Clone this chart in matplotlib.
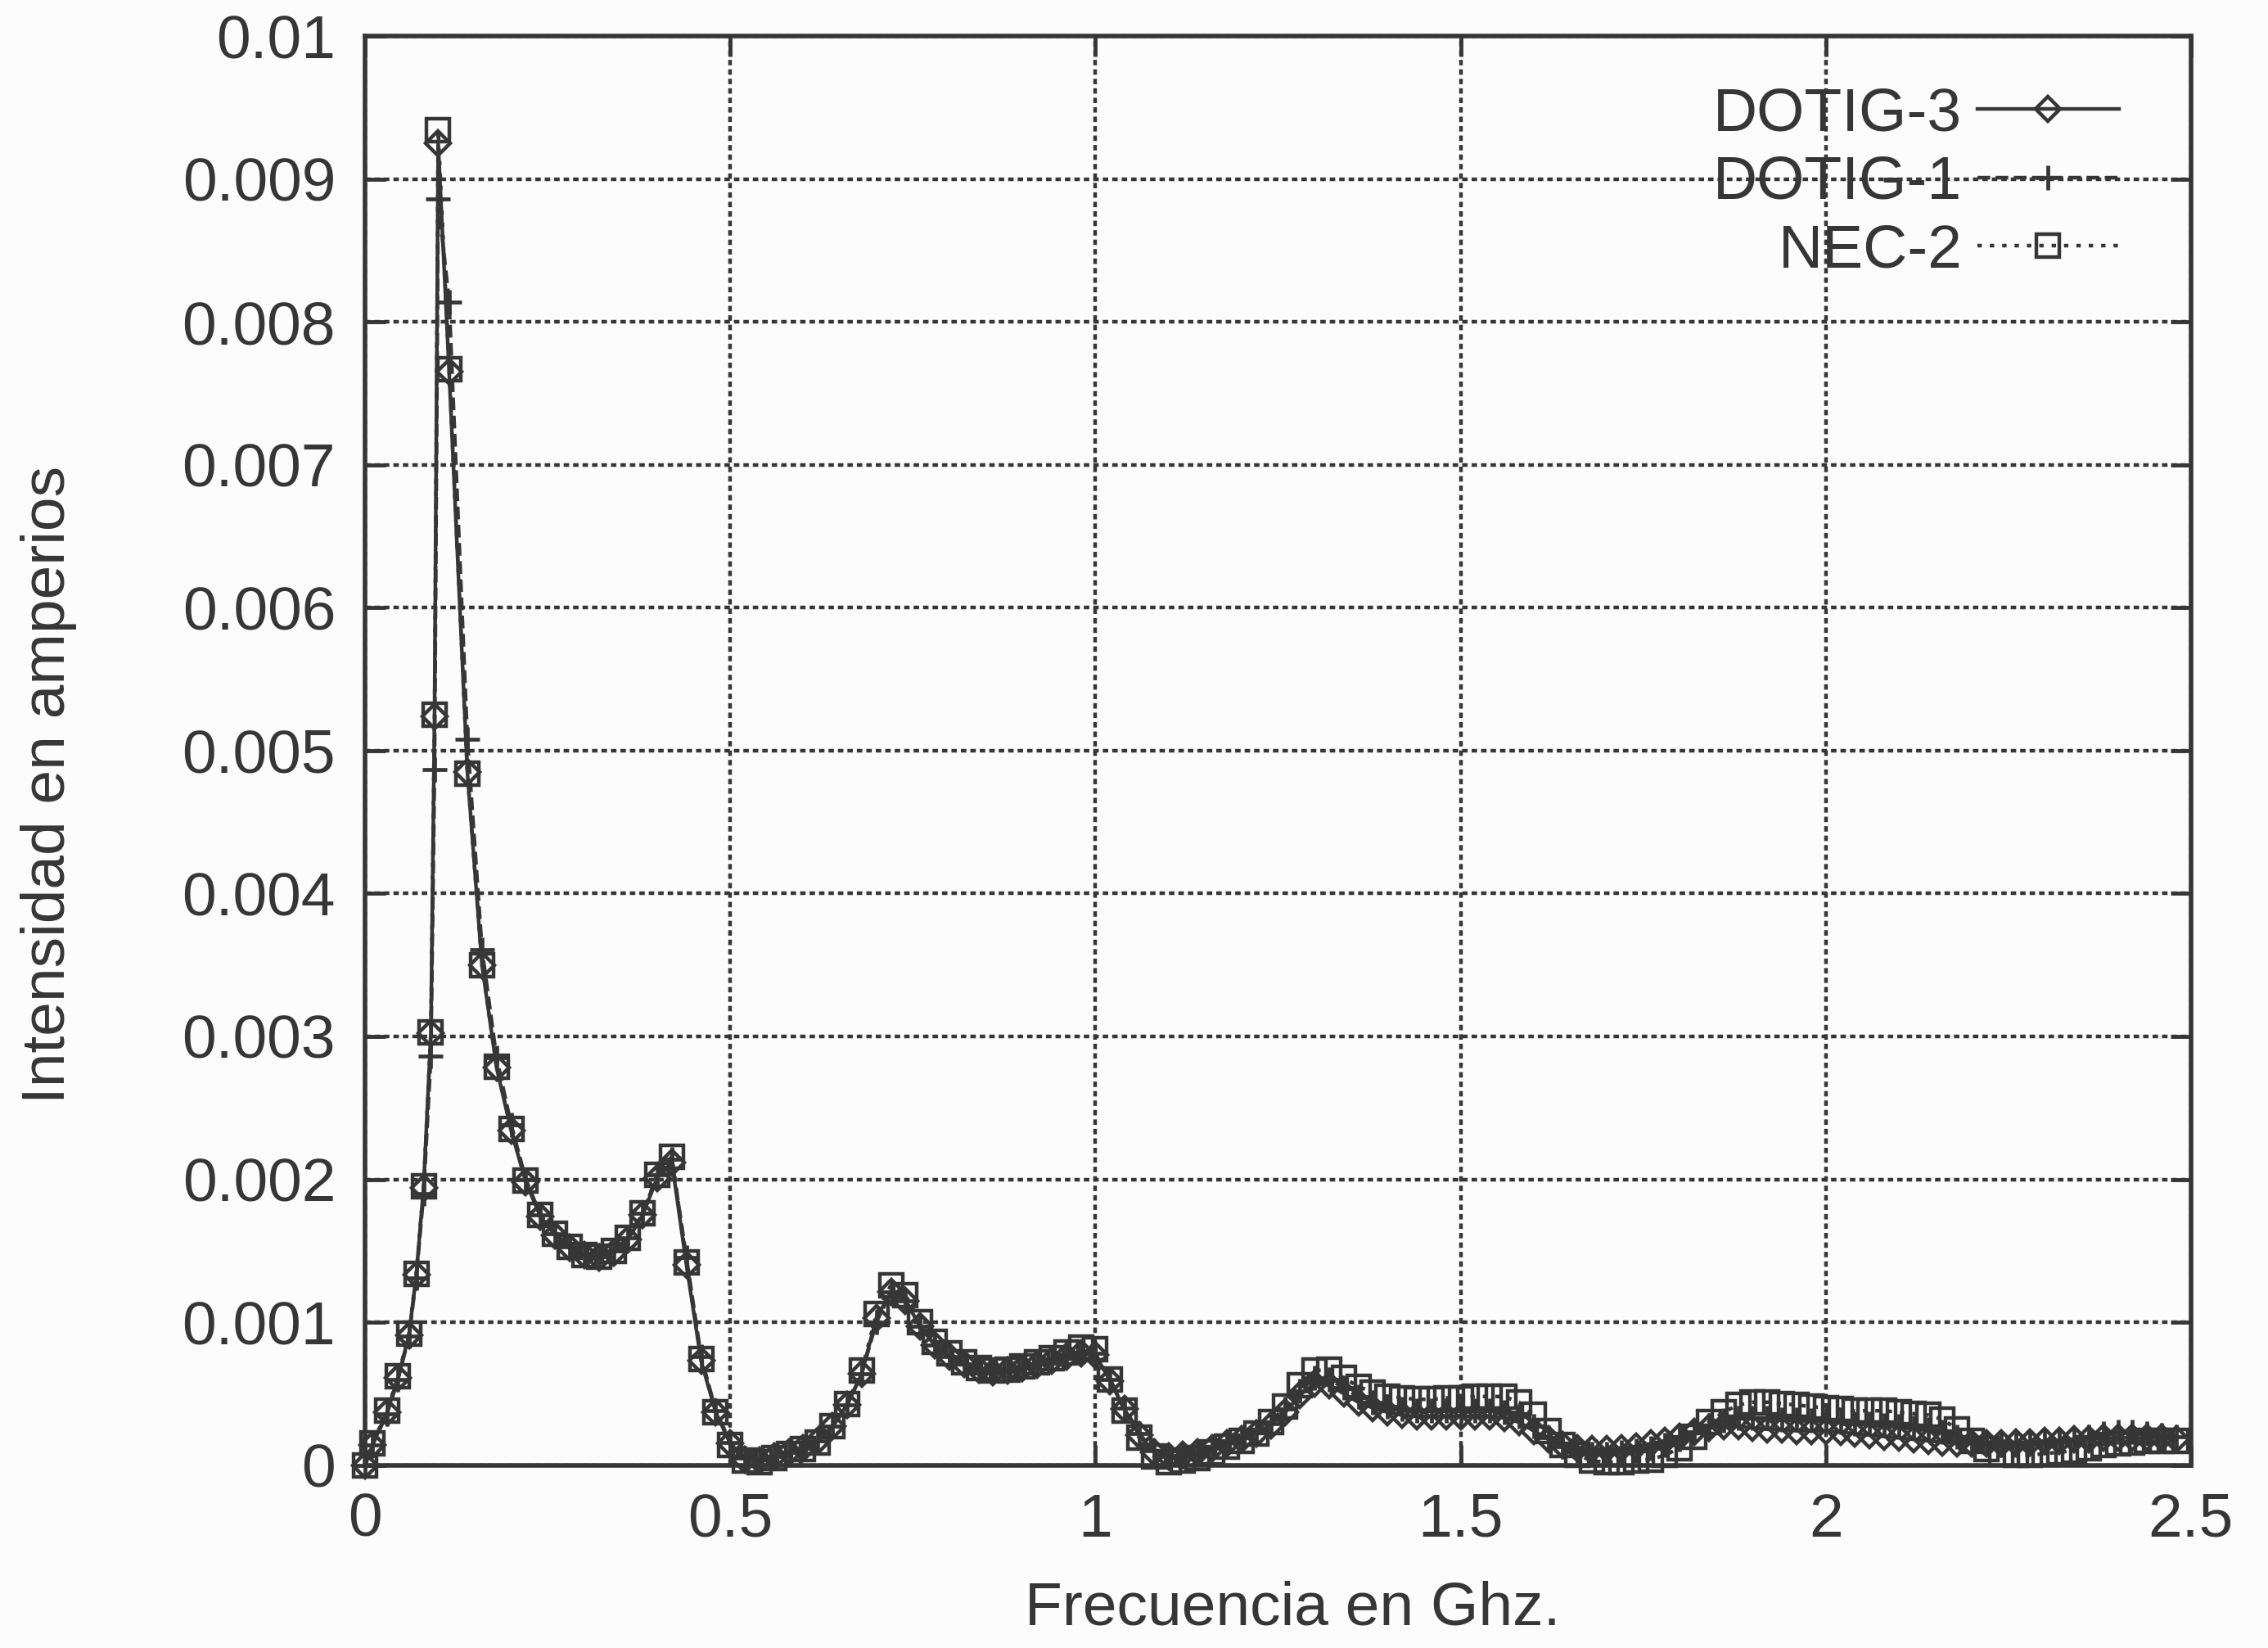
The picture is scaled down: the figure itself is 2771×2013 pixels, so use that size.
import matplotlib
matplotlib.use('Agg')
import matplotlib.pyplot as plt
from matplotlib.ticker import MultipleLocator, FormatStrFormatter

# Frecuencia (GHz) y corriente (A)
freq = [0, 0.01, 0.03, 0.045, 0.06, 0.07, 0.08, 0.09, 0.095, 0.1, 0.115, 0.14, 0.16, 0.18,
        0.20, 0.22, 0.24, 0.26, 0.28, 0.30, 0.32, 0.34, 0.36, 0.38,
        0.40, 0.42, 0.44, 0.46, 0.48, 0.50, 0.52, 0.54, 0.56, 0.58,
        0.60, 0.62, 0.64, 0.66, 0.68, 0.70, 0.72, 0.74, 0.76, 0.78,
        0.80, 0.82, 0.84, 0.86, 0.88, 0.90, 0.92, 0.94, 0.96, 0.98,
        1.00, 1.02, 1.04, 1.06, 1.08, 1.10, 1.12, 1.14, 1.16, 1.18,
        1.20, 1.22, 1.24, 1.26, 1.28, 1.30, 1.32, 1.34, 1.36, 1.38,
        1.40, 1.42, 1.44, 1.46, 1.48, 1.50, 1.52, 1.54, 1.56, 1.58,
        1.60, 1.62, 1.64, 1.66, 1.68, 1.70, 1.72, 1.74, 1.76, 1.78,
        1.80, 1.82, 1.84, 1.86, 1.88, 1.90, 1.92, 1.94, 1.96, 1.98,
        2.00, 2.02, 2.04, 2.06, 2.08, 2.10, 2.12, 2.14, 2.16, 2.18,
        2.20, 2.22, 2.24, 2.26, 2.28, 2.30, 2.32, 2.34, 2.36, 2.38,
        2.40, 2.42, 2.44, 2.46, 2.48]

dotig3 = [0, 0.00014, 0.00037, 0.00061, 0.00091, 0.00133, 0.00194, 0.00302, 0.00524, 0.00925, 0.00765, 0.00485, 0.00350, 0.00278,
          0.00234, 0.00198, 0.00174, 0.00161, 0.00152, 0.00147, 0.00145, 0.00149, 0.00158, 0.00175,
          0.00201, 0.00212, 0.00140, 0.00073, 0.00037, 0.00015, 0.00004, 0.00003, 0.00006, 0.00009,
          0.00012, 0.00017, 0.00027, 0.00042, 0.00064, 0.00103, 0.00121, 0.00115, 0.00097, 0.00084,
          0.00076, 0.00071, 0.00067, 0.00065, 0.00066, 0.00068, 0.00070, 0.00073, 0.00076, 0.00078,
          0.00077, 0.00059, 0.00039, 0.00021, 0.00009, 0.00006, 0.00007, 0.00009, 0.00012, 0.00015,
          0.00018, 0.00022, 0.00028, 0.00037, 0.00049, 0.00057, 0.00056, 0.00050, 0.00044, 0.00040,
          0.00037, 0.00035, 0.00034, 0.00034, 0.00034, 0.00034, 0.00034, 0.00034, 0.00033, 0.00030,
          0.00024, 0.00018, 0.00014, 0.00012, 0.00011, 0.00011, 0.00012, 0.00013, 0.00015, 0.00017,
          0.00020, 0.00023, 0.00026, 0.00027, 0.00027, 0.00026, 0.00025, 0.00025, 0.00024, 0.00024,
          0.00024, 0.00023, 0.00022, 0.00021, 0.00020, 0.00019, 0.00018, 0.00017, 0.00016, 0.00015,
          0.00015, 0.00015, 0.00015, 0.00016, 0.00016, 0.00017, 0.00017, 0.00018, 0.00018, 0.00019,
          0.00019, 0.00019, 0.00019, 0.00019, 0.00018]

dotig1 = [0, 0.00014, 0.00036, 0.00060, 0.00090, 0.00131, 0.00190, 0.00286, 0.00487, 0.00886, 0.00814, 0.00508, 0.00361, 0.00285,
          0.00238, 0.00200, 0.00175, 0.00162, 0.00153, 0.00147, 0.00146, 0.00150, 0.00159, 0.00176,
          0.00203, 0.00214, 0.00145, 0.00076, 0.00038, 0.00016, 0.00005, 0.00004, 0.00006, 0.00009,
          0.00012, 0.00017, 0.00027, 0.00042, 0.00064, 0.00100, 0.00121, 0.00115, 0.00097, 0.00084,
          0.00076, 0.00071, 0.00067, 0.00065, 0.00066, 0.00068, 0.00071, 0.00074, 0.00077, 0.00079,
          0.00078, 0.00060, 0.00040, 0.00022, 0.00010, 0.00006, 0.00006, 0.00009, 0.00012, 0.00016,
          0.00019, 0.00023, 0.00029, 0.00039, 0.00052, 0.00061, 0.00060, 0.00054, 0.00048, 0.00044,
          0.00041, 0.00039, 0.00038, 0.00038, 0.00038, 0.00038, 0.00038, 0.00038, 0.00037, 0.00034,
          0.00027, 0.00019, 0.00013, 0.00010, 0.00008, 0.00008, 0.00009, 0.00010, 0.00012, 0.00014,
          0.00018, 0.00023, 0.00028, 0.00031, 0.00033, 0.00033, 0.00033, 0.00032, 0.00032, 0.00031,
          0.00031, 0.00030, 0.00029, 0.00029, 0.00028, 0.00027, 0.00026, 0.00025, 0.00023, 0.00020,
          0.00017, 0.00015, 0.00014, 0.00014, 0.00015, 0.00016, 0.00017, 0.00018, 0.00020, 0.00022,
          0.00023, 0.00023, 0.00022, 0.00021, 0.00020]

nec2 = [0, 0.00015, 0.00038, 0.00062, 0.00092, 0.00134, 0.00195, 0.00303, 0.00525, 0.00934, 0.00767, 0.00484, 0.00350, 0.00279,
        0.00235, 0.00199, 0.00175, 0.00162, 0.00153, 0.00147, 0.00146, 0.00150, 0.00159, 0.00176,
        0.00203, 0.00216, 0.00142, 0.00074, 0.00037, 0.00014, 0.00003, 0.00002, 0.00005, 0.00008,
        0.00011, 0.00016, 0.00027, 0.00043, 0.00066, 0.00106, 0.00126, 0.00119, 0.00100, 0.00086,
        0.00078, 0.00072, 0.00068, 0.00066, 0.00067, 0.00069, 0.00072, 0.00075, 0.00079, 0.00082,
        0.00081, 0.00060, 0.00038, 0.00019, 0.00006, 0.00002, 0.00003, 0.00005, 0.00009, 0.00013,
        0.00017, 0.00022, 0.00030, 0.00041, 0.00056, 0.00066, 0.00067, 0.00061, 0.00055, 0.00051,
        0.00048, 0.00047, 0.00046, 0.00046, 0.00047, 0.00047, 0.00048, 0.00048, 0.00048, 0.00044,
        0.00035, 0.00024, 0.00014, 0.00007, 0.00003, 0.00002, 0.00002, 0.00003, 0.00004, 0.00007,
        0.00012, 0.00020, 0.00030, 0.00037, 0.00042, 0.00044, 0.00044, 0.00043, 0.00042, 0.00041,
        0.00040, 0.00039, 0.00038, 0.00038, 0.00038, 0.00037, 0.00036, 0.00035, 0.00032, 0.00025,
        0.00017, 0.00011, 0.00008, 0.00007, 0.00007, 0.00008, 0.00009, 0.00010, 0.00012, 0.00014,
        0.00015, 0.00016, 0.00017, 0.00017, 0.00017]

ink = '#363636'
plt.rcParams['font.family'] = ['Liberation Sans', 'DejaVu Sans']
plt.rcParams['text.color'] = ink

fig = plt.figure(figsize=(27.71, 20.13), dpi=100, facecolor='#fcfcfc')
ax = fig.add_axes([0.161, 0.111, 0.805, 0.867])
ax.set_facecolor('#fcfcfc')

# Series, estilo gnuplot (marcadores huecos)
ax.plot(freq, dotig3, color=ink, lw=3.2, ls='-', marker='D', ms=15,
        mfc='none', mew=3.2, label='DOTIG-3', clip_on=False, zorder=3)
ax.plot(freq, dotig1, color=ink, lw=3.2, ls=(0, (3.5, 1.5)), marker='+', ms=22,
        mew=3.4, label='DOTIG-1', clip_on=False, zorder=4)
ax.plot(freq, nec2, color=ink, lw=3.2, ls=(0, (1.2, 2.2)), marker='s', ms=20,
        mfc='none', mew=3.2, label='NEC-2', clip_on=False, zorder=5)

ax.set_xlim(0, 2.5)
ax.set_ylim(0, 0.01)
ax.xaxis.set_major_locator(MultipleLocator(0.5))
ax.yaxis.set_major_locator(MultipleLocator(0.001))
ax.xaxis.set_major_formatter(FormatStrFormatter('%g'))
ax.yaxis.set_major_formatter(FormatStrFormatter('%g'))

ax.grid(True, color=ink, lw=3.2, ls=(0, (1.5, 1.1)))
ax.set_axisbelow(True)
for s in ax.spines.values():
    s.set_linewidth(4)
    s.set_color(ink)

ax.tick_params(axis='both', direction='in', length=18, width=3.5, colors=ink,
               labelsize=54, top=True, right=True)
ax.tick_params(axis='y', pad=26)
ax.tick_params(axis='x', pad=24)

ax.set_xlabel('Frecuencia en Ghz.', fontsize=54, color=ink)
ax.set_ylabel('Intensidad en amperios', fontsize=54, color=ink)
ax.xaxis.set_label_coords(0.508, -0.081)
ax.yaxis.set_label_coords(-0.158, 0.476)

ax.legend(loc='upper right', bbox_to_anchor=(0.984, 0.995), frameon=False,
          fontsize=54, markerfirst=False, numpoints=1, handlelength=2.3,
          handletextpad=0.25, labelspacing=0.19, borderaxespad=0.4, borderpad=0.3)

fig.savefig('out.png', dpi=100, facecolor=fig.get_facecolor())
